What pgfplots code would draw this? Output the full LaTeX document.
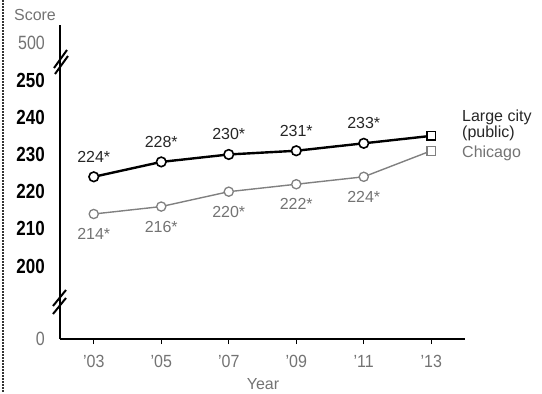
\documentclass[border=0pt]{standalone}
\usepackage{fontspec}
\setmainfont{Liberation Sans}
\usepackage{graphicx}
\usepackage{pgfplots}
\pgfplotsset{compat=1.18}
\definecolor{txtgray}{gray}{0.45}
\definecolor{chigray}{gray}{0.5}
\newcommand{\lab}{\fontsize{16bp}{17bp}\selectfont}
\begin{document}
\begin{tikzpicture}
\begin{axis}[
  name=ax,
  scale only axis, width=405bp, height=314bp,
  xmin=2002, xmax=2014, ymin=180.4, ymax=264.8,
  axis lines*=left,
  clip=false,
  x axis line style={line width=1.3bp},
  y axis line style={line width=2.2bp},
  xtick={2003,2005,...,2013},
  xticklabels={’03,’05,’07,’09,’11,’13},
  xticklabel style={font=\lab, text=txtgray, anchor=north, inner sep=0pt, yshift=-11bp, yscale=1.1},
  xtick style={black, line width=1bp},
  tick align=outside,
  major tick length=5bp,
  ytick={200,210,...,250},
  yticklabels={200,210,220,230,240,250},
  ytick style={draw=none},
  yticklabel style={font=\bfseries\fontsize{17bp}{17bp}\selectfont, anchor=east, inner sep=0pt, xshift=-10bp, yscale=1.2},
  extra y ticks={180.4,260},
  extra y tick labels={0,500},
  extra y tick style={ytick style={draw=none}, yticklabel style={font=\lab, text=txtgray, yscale=1}},
]
\coordinate (O) at (rel axis cs:0,0);
% Chicago
\addplot[chigray, line width=1.4bp, mark=*, mark size=4.6bp,
  mark options={fill=white, draw=chigray, line width=1.3bp},
  mark indices={1,2,3,4,5},
  point meta=explicit symbolic, nodes near coords,
  every node near coord/.append style={anchor=center, yshift=-20bp, font=\lab, text=txtgray}]
  coordinates {(2003,214)[214*] (2005,216)[216*] (2007,220)[220*] (2009,222)[222*] (2011,224)[224*] (2013,231)[231]};
\addplot[only marks, mark=square*, mark size=4.4bp, mark options={fill=white, draw=chigray, line width=1.3bp}]
  coordinates {(2013,231)};
% Large city
\addplot[black, line width=2.4bp, mark=*, mark size=4.8bp,
  mark options={fill=white, draw=black, line width=1.6bp},
  mark indices={1,2,3,4,5},
  point meta=explicit symbolic, nodes near coords,
  every node near coord/.append style={anchor=center, yshift=20bp, font=\lab, text=black!85}]
  coordinates {(2003,224)[224*] (2005,228)[228*] (2007,230)[230*] (2009,231)[231*] (2011,233)[233*] (2013,235)[235]};
\addplot[only marks, mark=square*, mark size=4.4bp, mark options={fill=white, draw=black, line width=1.6bp}]
  coordinates {(2013,235)};
\end{axis}
\pgfresetboundingbox
\begin{scope}[shift={(O)}, x=1bp, y=-1bp, shift={(-60,-339)}]
  \path[use as bounding box] (0,0) rectangle (542,393);
  \node[font=\lab, text=txtgray] at (35,15) {Score};
  \node[font=\lab, text=black!85, anchor=west, inner sep=0pt] at (462,117) {Large city};
  \node[font=\lab, text=black!85, anchor=west, inner sep=0pt] at (462,133) {(public)};
  \node[font=\lab, text=txtgray, anchor=west, inner sep=0pt] at (462,153) {Chicago};
  \node[font=\lab, text=txtgray] at (263,384) {Year};
  \draw[black!80, line width=1.8bp, dash pattern=on 2bp off 1bp] (3,0) -- (3,393);
  \draw[black, line width=2bp] (54,68) -- (67,50);
  \draw[black, line width=2bp] (55,74) -- (68,56);
  \draw[black, line width=2bp] (53,306) -- (66,290);
  \draw[black, line width=2bp] (53,314) -- (66,298);
\end{scope}
\end{tikzpicture}
\end{document}
